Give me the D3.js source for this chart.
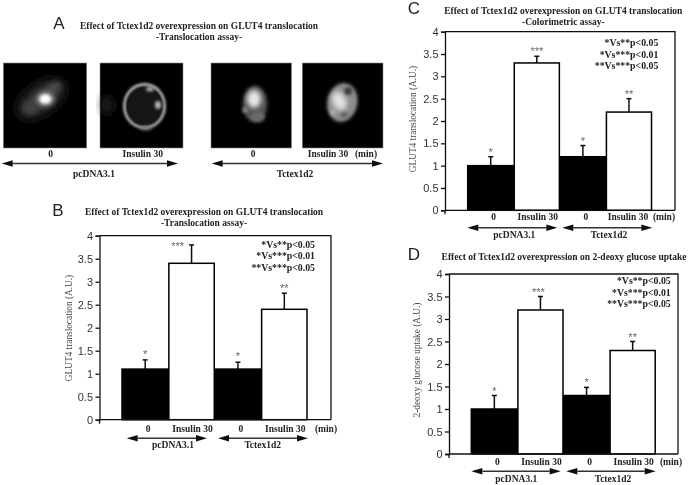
<!DOCTYPE html>
<html><head><meta charset="utf-8">
<style>html,body{margin:0;padding:0;background:#fff}svg{display:block}
.ser{font-family:"Liberation Serif",serif;font-weight:bold;fill:#222}
.san{font-family:"Liberation Sans",sans-serif;fill:#222}</style>
<script src="https://cdn.jsdelivr.net/npm/d3@7"></script></head><body>
<script>
const groups = ["0","Insulin 30","0","Insulin 30"];
const stars = ["*","***","*","**"];
const statLines = ["*Vs**p<0.05","*Vs***p<0.01","**Vs***p<0.05"];
const yTicks = [0,0.5,1,1.5,2,2.5,3,3.5,4];
const valuesB = [1.1,3.4,1.1,2.4];
const errorsB = [1.3,3.8,1.25,2.75];
const valuesC = [1.0,3.3,1.2,2.2];
const errorsC = [1.2,3.45,1.45,2.5];
const valuesD = [1.0,3.2,1.3,2.3];
const errorsD = [1.3,3.5,1.48,2.5];
const titleA = ["Effect of Tctex1d2 overexpression on GLUT4 translocation","-Translocation assay-"];
const titleC = ["Effect of Tctex1d2 overexpression on GLUT4 translocation","-Colorimetric assay-"];
const titleD = ["Effect of Tctex1d2 overexpression on 2-deoxy glucose uptake"];
const yLabelGlut = "GLUT4 translocation (A.U.)";
const yLabelDeoxy = "2-deoxy glucose uptake (A.U.)";

const W=688,H=485;
const svg=d3.select("body").append("svg").attr("width",W).attr("height",H);
const defs=svg.append("defs");
defs.append("filter").attr("id","soft").append("feGaussianBlur").attr("stdDeviation",0.35);
[0.8,1.5,2.5,5].forEach((s,i)=>defs.append("filter").attr("id","b"+i)
  .attr("x","-60%").attr("y","-60%").attr("width","220%").attr("height","220%")
  .append("feGaussianBlur").attr("stdDeviation",s));
const root=svg.append("g").attr("filter","url(#soft)");

function txt(g,x,y,s,size,cls,anchor){
  return g.append("text").attr("x",x).attr("y",y).attr("class",cls||"ser")
    .attr("font-size",size).attr("text-anchor",anchor||"middle").text(s);
}
function arrow(g,x1,x2,y,hw,hl){
  g.append("line").attr("x1",x1+hl).attr("x2",x2-hl).attr("y1",y).attr("y2",y).attr("stroke","#333").attr("stroke-width",1.5);
  g.append("path").attr("d",d3.line()([[x1,y],[x1+hl,y-hw],[x1+hl,y+hw]])+"Z").attr("fill","#111");
  g.append("path").attr("d",d3.line()([[x2,y],[x2-hl,y-hw],[x2-hl,y+hw]])+"Z").attr("fill","#111");
}
function panel(o){
  const g=root.append("g");
  const y=d3.scaleLinear().domain([0,4]).range([o.y0,o.y4]);
  const x=d3.scaleBand().domain(d3.range(4)).range([o.barL,o.barR]).padding(0);
  g.append("path").attr("d",`M${o.axL},${o.y4}H${o.axR}V${o.y0}`).attr("fill","none").attr("stroke","#111").attr("stroke-width",1.3);
  const bw=x.bandwidth();
  o.values.forEach((v,i)=>{
    const cx=x(i)+bw/2;
    g.append("line").attr("x1",cx).attr("x2",cx).attr("y1",y(v)).attr("y2",y(o.errors[i])).attr("stroke","#111").attr("stroke-width",1.5);
    g.append("line").attr("x1",cx-2.5).attr("x2",cx+2.5).attr("y1",y(o.errors[i])).attr("y2",y(o.errors[i])).attr("stroke","#111").attr("stroke-width",1.5);
    txt(g,cx+o.starDx[i],y(o.errors[i])-o.starUp[i],stars[i],11,"san").style("fill","#666");
  });
  g.selectAll("rect.bar").data(o.values).join("rect").attr("class","bar")
    .attr("x",(d,i)=>x(i)+(i%2?0.5:0)).attr("width",(d,i)=>bw-(i%2?1:0))
    .attr("y",d=>y(d)).attr("height",d=>o.y0-y(d))
    .attr("fill",(d,i)=>i%2?"#fff":"#000").attr("stroke","#000").attr("stroke-width",1.5);
  const ax=g.append("g").attr("transform",`translate(${o.axL},0)`)
    .call(d3.axisLeft(y).tickValues(yTicks).tickSize(4).tickPadding(2.5).tickFormat(d3.format("~g")));
  ax.selectAll("path,line").attr("stroke","#111").attr("stroke-width",1.3);
  ax.selectAll("text").attr("font-family","Liberation Sans").attr("font-size",11).attr("fill","#333");
  g.append("line").attr("x1",o.axL).attr("x2",o.axR).attr("y1",o.y0).attr("y2",o.y0).attr("stroke","#111").attr("stroke-width",1.3);
  g.append("line").attr("x1",o.axL).attr("x2",o.axL).attr("y1",o.y0).attr("y2",o.y0+4).attr("stroke","#111").attr("stroke-width",1.3);
  txt(g,0,0,o.yLabel,9.3,"ser").style("font-weight","normal").style("fill","#444")
    .attr("transform",`translate(${o.yLabelX},${o.yLabelY}) rotate(-90)`);
  o.title.forEach((t,i)=>txt(g,o.titleX,o.titleY+i*11.4,t,9.5));
  statLines.forEach((t,i)=>txt(g,o.statX,o.statY+i*11.5,t,9.8,"ser","end"));
  groups.forEach((t,i)=>txt(g,x(i)+bw/2+o.lblDx[i],o.y0+o.lblDy,t,9.5));
  txt(g,o.minX,o.y0+o.lblDy,"(min)",9.5);
  arrow(g,o.ar[0],o.ar[1],o.y0+o.arDy,3.2,11);
  arrow(g,o.ar[2],o.ar[3],o.y0+o.arDy,3.2,11);
  txt(g,o.names[0],o.y0+28,"pcDNA3.1",9.5);
  txt(g,o.names[1],o.y0+28,"Tctex1d2",9.5);
}
panel({values:valuesB,errors:errorsB,y0:419.7,y4:235.7,axL:99.5,axR:331,barL:122,barR:307.5,
  yLabel:yLabelGlut,yLabelX:72,yLabelY:328,title:titleA,titleX:204,titleY:215,statX:315,statY:247.7,
  minX:326,lblDy:12.6,lblDx:[3,1,3,1],arDy:18.6,ar:[126.7,207,218,308],names:[173,262.7],
  starDx:[0,-14,0,0],starUp:[2,-5,2,1]});
panel({values:valuesC,errors:errorsC,y0:210.3,y4:31.7,axL:445,axR:675,barL:467.7,barR:652,
  yLabel:yLabelGlut,yLabelX:416,yLabelY:119,title:titleC,titleX:563.3,titleY:14,statX:658.3,statY:46,
  minX:664,lblDy:10,lblDx:[3,1,3,-1],arDy:17.4,ar:[467.3,557.3,562.3,652.3],names:[514.3,609],
  starDx:[0,0,0,0],starUp:[1,1,1,1]});
panel({values:valuesD,errors:errorsD,y0:454,y4:274,axL:449,axR:678,barL:471.3,barR:655.7,
  yLabel:yLabelDeoxy,yLabelX:420,yLabelY:360,title:titleD,titleX:564,titleY:260,statX:670.7,statY:284.3,
  minX:671,lblDy:11,lblDx:[3,1,3,1],arDy:17.3,ar:[471.3,560.7,566.3,655.7],names:[516.3,613],
  starDx:[0,-2,0,0],starUp:[1,1,1,1]});

[["A",59,29],["B",58,215.7],["C",414,14],["D",414,260]].forEach(([s,x,y])=>
  txt(root,x,y,s,17,"san"));

titleA.forEach((t,i)=>txt(root,199,28.5+i*11,t,9.5));
const micro=[
 {x:3.3,w:83.4,kind:"diffuse"},{x:100,w:83,kind:"ring"},{x:211,w:80.5,kind:"small"},{x:302.3,w:80.7,kind:"mottled"}];
micro.forEach(m=>{
  const g=root.append("g");
  g.append("rect").attr("x",m.x).attr("y",63).attr("width",m.w).attr("height",85).attr("fill","#040404").attr("stroke","#888").attr("stroke-width",.6);
  const e=(cx,cy,rx,ry,fill,f,rot)=>g.append("ellipse").attr("cx",m.x+cx).attr("cy",63+cy).attr("rx",rx).attr("ry",ry).attr("fill",fill)
     .attr("filter",f!==undefined&&f!==null?`url(#b${f})`:null).attr("transform",rot?`rotate(${rot} ${m.x+cx} ${63+cy})`:null);
  if(m.kind==="diffuse"){
    e(38,36,25,12,"#3a3a3a",3,-35);
    e(50,25,9,5,"#4a4a4a",2,-30);
    e(27,45,7,6,"#424242",2);
    e(42,36,9,7,"#999",2);
    e(42,36,5.5,4.5,"#fff",1);
  } else if(m.kind==="ring"){
    e(7,42,5,8,"#222",3);
    g.append("ellipse").attr("cx",m.x+44.5).attr("cy",63+43).attr("rx",20.5).attr("ry",22)
      .attr("fill","#141414").attr("stroke","#c8c8c8").attr("stroke-width",1.8).attr("filter","url(#b0)");
    e(50,26,4,2.5,"#aaa",1); e(58,42,3,4,"#bbb",1); e(46,65,6,2,"#777",1);
  } else if(m.kind==="small"){
    e(44,41,12,18,"#555",1);
    e(43,36,7,9,"#e8e8e8",2);
    e(34,47,2.5,3,"#888",1);
    e(47,54,7,5,"#6a6a6a",1);
  } else {
    e(40,39.5,15,19.5,"#8c8c8c",1,12);
    e(37,38,7,10,"#e0e0e0",2,-25);
    e(46,28,4,4,"#3c3c3c",1);
    e(42,52,4,3,"#666",1);
    e(31,49,3,3,"#aaa",1);
  }
});
[[50.7,"0"],[142.7,"Insulin 30"],[253,"0"],[328,"Insulin 30"]].forEach(([x,s])=>txt(root,x,157,s,9.5));
txt(root,366,157,"(min)",9.5);
arrow(root,1.7,178,163.5,3.2,11);
arrow(root,211.7,383,163.5,3.2,11);
txt(root,94,177,"pcDNA3.1",9.5);
txt(root,295,177,"Tctex1d2",9.5);
</script></body></html>
